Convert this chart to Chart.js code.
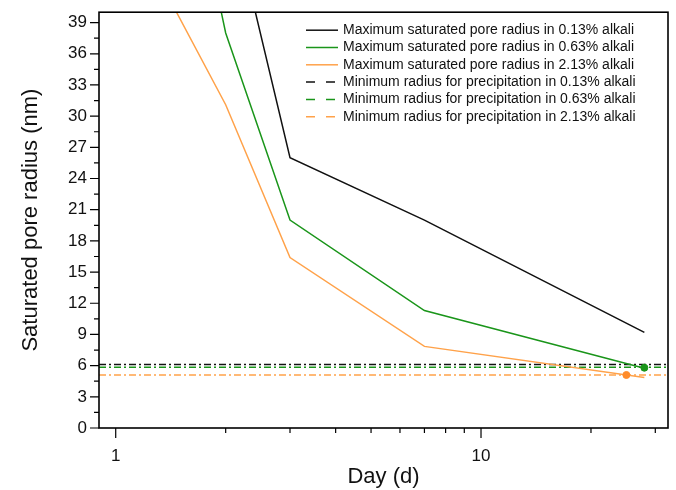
<!DOCTYPE html>
<html>
<head>
<meta charset="utf-8">
<script src="https://cdn.jsdelivr.net/npm/chart.js@4"></script>
<style>
  html, body { margin: 0; padding: 0; background: #fff; }
</style>
</head>
<body>
<canvas id="chart" width="676" height="490"></canvas>
<script>
// --- data ---
const days = [1, 2, 3, 7, 28];
const maxR013 = [100, 52, 26, 20, 9.2];
const maxR063 = [88, 38, 20, 11.3, 5.75];
const maxR213 = [51, 31.1, 16.4, 7.85, 4.85];

const minR013 = 6.1;
const minR063 = 5.85;
const minR213 = 5.1;

const crossDays = [28, 25];
const crossRadius = [5.8, 5.1];

const xMin = 0.9, xMax = 32.5;
const yMin = 0, yMax = 40;
const xTickLabels = [1, 10];
const xMinorTicks = [2, 3, 4, 5, 6, 7, 8, 9, 20, 30];
const yTickLabels = [0, 3, 6, 9, 12, 15, 18, 21, 24, 27, 30, 33, 36, 39];
const yMinorTicks = [1.5, 4.5, 7.5, 10.5, 13.5, 16.5, 19.5, 22.5, 25.5, 28.5, 31.5, 34.5, 37.5];

const BLACK = '#111111', GREEN = '#1a951a', ORANGE = '#ffa24a';

const pts = (xs, ys) => xs.map((d, i) => ({ x: d, y: ys[i] }));
const hline = v => [{ x: xMin, y: v }, { x: xMax, y: v }];

Chart.defaults.font.family = "'Liberation Sans', Arial, sans-serif";
Chart.defaults.color = '#111';

function solid(label, data, color) {
    return { label, data: pts(days, data), borderColor: color, backgroundColor: color,
             borderWidth: 1.5, pointRadius: 0, tension: 0, legendDash: [] };
}
function dashDot(label, value, color) {
    return { label, data: hline(value), borderColor: color, backgroundColor: color,
             borderWidth: 1.5, pointRadius: 0, borderDash: [7, 3, 2, 3], legendDash: [9, 11] };
}

// frame box + major/minor tick marks
const frameTicks = {
    id: 'frameTicks',
    afterDatasetsDraw(chart) {
        const { ctx, chartArea: a, scales: { x, y } } = chart;
        ctx.save();
        ctx.strokeStyle = '#000';
        ctx.lineWidth = 1.2;
        ctx.beginPath();
        yTickLabels.forEach(v => { const p = y.getPixelForValue(v); ctx.moveTo(a.left - 9, p); ctx.lineTo(a.left, p); });
        yMinorTicks.forEach(v => { const p = y.getPixelForValue(v); ctx.moveTo(a.left - 5, p); ctx.lineTo(a.left, p); });
        xTickLabels.forEach(v => { const p = x.getPixelForValue(v); ctx.moveTo(p, a.bottom); ctx.lineTo(p, a.bottom + 10); });
        xMinorTicks.forEach(v => { const p = x.getPixelForValue(v); ctx.moveTo(p, a.bottom); ctx.lineTo(p, a.bottom + 5); });
        ctx.stroke();
        ctx.lineWidth = 1.6;
        ctx.strokeRect(a.left, a.top, a.right - a.left, a.bottom - a.top);
        ctx.restore();
    }
};

// legend drawn inside the plot, top right
const insideLegend = {
    id: 'insideLegend',
    afterDraw(chart) {
        const { ctx, chartArea: a } = chart;
        const items = chart.data.datasets.filter(d => d.legendDash);
        const x0 = a.right - 362, x1 = a.right - 330, tx = a.right - 325;
        ctx.save();
        ctx.font = "14px 'Liberation Sans', Arial, sans-serif";
        ctx.textBaseline = 'middle';
        items.forEach((d, i) => {
            const yy = a.top + 18 + i * 17.3;
            ctx.strokeStyle = d.borderColor;
            ctx.lineWidth = 1.5;
            ctx.setLineDash(d.legendDash);
            ctx.beginPath();
            ctx.moveTo(x0, yy); ctx.lineTo(x1, yy);
            ctx.stroke();
            ctx.setLineDash([]);
            ctx.fillStyle = '#111';
            ctx.fillText(d.label, tx, yy);
        });
        ctx.restore();
    }
};

new Chart(document.getElementById('chart'), {
    type: 'line',
    data: {
        datasets: [
            solid('Maximum saturated pore radius in 0.13% alkali', maxR013, BLACK),
            solid('Maximum saturated pore radius in 0.63% alkali', maxR063, GREEN),
            solid('Maximum saturated pore radius in 2.13% alkali', maxR213, ORANGE),
            dashDot('Minimum radius for precipitation in 0.13% alkali', minR013, BLACK),
            dashDot('Minimum radius for precipitation in 0.63% alkali', minR063, GREEN),
            dashDot('Minimum radius for precipitation in 2.13% alkali', minR213, ORANGE),
            { type: 'scatter', label: 'cross', data: pts(crossDays, crossRadius), order: -1,
              backgroundColor: [GREEN, '#ff8c2a'], borderColor: [GREEN, '#ff8c2a'], pointRadius: 3.5 }
        ]
    },
    options: {
        responsive: false,
        animation: false,
        layout: { padding: { top: 10, right: 8, left: 0, bottom: 0 } },
        plugins: { legend: { display: false }, tooltip: { enabled: false } },
        scales: {
            x: {
                type: 'logarithmic', min: xMin, max: xMax,
                afterBuildTicks: s => { s.ticks = xTickLabels.map(v => ({ value: v })); },
                afterFit: s => { s.height = 62; },
                grid: { drawOnChartArea: false, tickLength: 10, tickColor: 'transparent' },
                border: { display: false },
                ticks: { callback: v => String(v), font: { size: 17 }, padding: 8, maxRotation: 0 },
                title: { display: true, text: 'Day (d)', font: { size: 22 }, padding: { top: 0, bottom: 0 } }
            },
            y: {
                min: yMin, max: yMax,
                afterBuildTicks: s => { s.ticks = yTickLabels.map(v => ({ value: v })); },
                afterFit: s => { s.width = 99; },
                grid: { drawOnChartArea: false, tickLength: 10, tickColor: 'transparent' },
                border: { display: false },
                ticks: { callback: v => String(v), font: { size: 17 }, padding: 2 },
                title: { display: true, text: 'Saturated pore radius (nm)', font: { size: 22 }, padding: { top: 18, bottom: 0 } }
            }
        }
    },
    plugins: [frameTicks, insideLegend]
});
</script>
</body>
</html>
